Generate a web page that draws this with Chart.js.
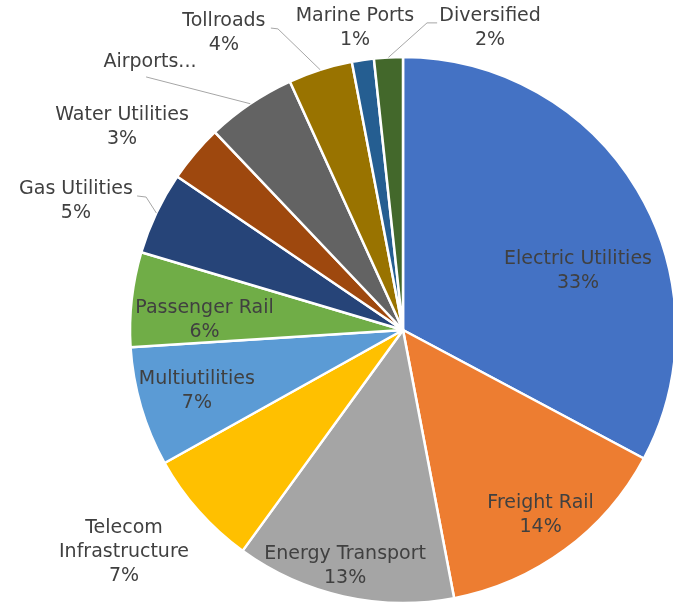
<!DOCTYPE html>
<html>
<head>
<meta charset="utf-8">
<script src="https://cdn.jsdelivr.net/npm/chart.js@4"></script>
<style>
  html, body { margin: 0; padding: 0; background: #fff; }
  #wrap { width: 673px; height: 604px; }
</style>
</head>
<body>
<div id="wrap"><canvas id="graficoSetores"></canvas></div>
<script>
const setores = ['Electric Utilities', 'Freight Rail', 'Energy Transport', 'Telecom Infrastructure',
    'Multiutilities', 'Passenger Rail', 'Gas Utilities', 'Water Utilities', 'Airports',
    'Tollroads', 'Marine Ports', 'Diversified'];

const pesos = [32.8, 14.2, 13.0, 6.9, 7.1, 5.6, 4.9, 3.4, 5.3, 3.8, 1.3, 1.7];

const cores = ['#4472C4', '#ED7D31', '#A5A5A5', '#FFC000', '#5B9BD5', '#70AD47',
    '#264478', '#9E480E', '#636363', '#997300', '#255E91', '#43682B'];

// where each label sits, relative to the pie centre, in units of the radius
const rotulos = [
    { pos: [0.641, -0.216] },
    { pos: [0.504, 0.678] },
    { pos: [-0.212, 0.866] },
    { pos: [-1.022, 0.813], linhas: ['Telecom', 'Infrastructure'] },
    { pos: [-0.755, 0.225] },
    { pos: [-0.727, -0.037] },
    { pos: [-1.198, -0.473], guia: [[-0.974, -0.491], [-0.941, -0.487]] },
    { pos: [-1.029, -0.744] },
    { pos: [-0.927, -0.982], linhas: ['Airports...'], semValor: true, guia: [[-0.941, -0.927]] },
    { pos: [-0.656, -1.086], guia: [[-0.484, -1.106], [-0.458, -1.103]] },
    { pos: [-0.176, -1.106] },
    { pos: [0.319, -1.106], guia: [[0.125, -1.125], [0.088, -1.125]] }
];

const rotulosPlugin = {
    id: 'rotulos',
    afterDatasetsDraw(chart) {
        const ctx = chart.ctx;
        const meta = chart.getDatasetMeta(0);
        const total = pesos.reduce((a, b) => a + b, 0);
        ctx.save();
        ctx.font = '19px "DejaVu Sans"';
        ctx.textAlign = 'center';
        ctx.textBaseline = 'middle';
        meta.data.forEach((arc, i) => {
            const { x, y, outerRadius, startAngle, endAngle } = arc.getProps(['x', 'y', 'outerRadius', 'startAngle', 'endAngle'], true);
            const r = rotulos[i];
            const R = outerRadius;

            if (r.guia) {
                const meio = (startAngle + endAngle) / 2;
                ctx.strokeStyle = '#A6A6A6';
                ctx.lineWidth = 1;
                ctx.beginPath();
                r.guia.forEach((p, k) => {
                    const px = x + p[0] * R, py = y + p[1] * R;
                    if (k === 0) ctx.moveTo(px, py); else ctx.lineTo(px, py);
                });
                ctx.lineTo(x + Math.cos(meio) * R, y + Math.sin(meio) * R);
                ctx.stroke();
            }

            const linhas = (r.linhas || [setores[i]]).slice();
            if (!r.semValor) linhas.push(Math.round(pesos[i] / total * 100) + '%');
            const cx = x + r.pos[0] * R;
            const cy = y + r.pos[1] * R;
            const alt = 24;
            ctx.fillStyle = '#404040';
            linhas.forEach((t, k) => {
                ctx.fillText(t, cx, cy + (k - (linhas.length - 1) / 2) * alt);
            });
        });
        ctx.restore();
    }
};

const ctx = document.getElementById('graficoSetores');

new Chart(ctx, {
    type: 'pie',

    data: {
        labels: setores,

        datasets: [{
            data: pesos,

            backgroundColor: cores,

            borderColor: '#FFFFFF',

            borderWidth: 2.5,

            radius: 273
        }]
    },

    options: {
        responsive: true,

        maintainAspectRatio: false,

        animation: false,

        layout: {
            padding: { left: 133, right: 0, top: 56, bottom: 0 }
        },

        plugins: {
            legend: {
                display: false
            },
            tooltip: {
                enabled: false
            }
        }
    },

    plugins: [rotulosPlugin]
});
</script>
</body>
</html>
